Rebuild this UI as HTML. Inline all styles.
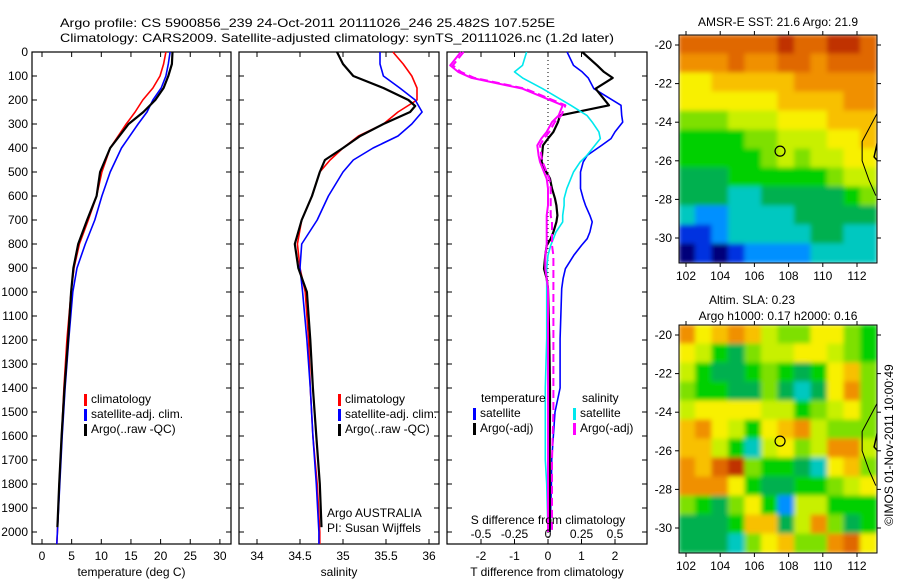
<!DOCTYPE html>
<html><head><meta charset="utf-8"><style>
html,body{margin:0;padding:0;background:#fff}
svg{display:block;font-family:"Liberation Sans",sans-serif}
text{font-size:12px;fill:#000}
</style></head><body>
<svg id="fig" width="900" height="580" viewBox="0 0 900 580" xmlns="http://www.w3.org/2000/svg">
<text x="60" y="27" font-size="14" textLength="495" lengthAdjust="spacingAndGlyphs">Argo profile: CS 5900856_239 24-Oct-2011 20111026_246 25.482S 107.525E</text>
<text x="60" y="42" font-size="14" textLength="554" lengthAdjust="spacingAndGlyphs">Climatology: CARS2009. Satellite-adjusted climatology: synTS_20111026.nc (1.2d later)</text>
<g id="plots"></g>
<g id="maps"></g>
<text transform="translate(893,445) rotate(-90)" text-anchor="middle" font-size="12">©IMOS 01-Nov-2011 10:00:49</text>
</svg>
<script>
// ---------- data ----------
const depthT = [0,50,100,150,200,250,300,400,500,600,700,800,900,1000,1200,1400,1600,1800,2000,2050];
const tempClim = [20.9,20.5,19.9,18.7,17.0,15.7,14.2,11.5,10.1,9.2,7.8,6.3,5.4,4.9,4.2,3.7,3.3,2.9,2.6,2.5];
const tempSat  = [21.6,21.3,20.9,20.1,18.7,17.7,16.2,13.4,11.5,10.1,8.9,7.3,5.9,5.2,4.5,3.9,3.4,3.0,2.6,2.5];
const depthArgo = [0,50,100,150,200,250,300,400,500,600,700,800,900,1000,1200,1400,1600,1800,1980];
const tempArgo = [22.0,21.9,21.3,20.5,19.1,17.1,14.6,11.5,9.8,9.2,7.6,6.1,5.3,4.9,4.4,3.8,3.3,2.9,2.6];

const depthS = [0,50,100,150,200,250,300,350,400,450,500,600,700,800,900,1000,1200,1400,1600,1800,2000,2050];
const salClim = [35.58,35.70,35.80,35.86,35.86,35.64,35.47,35.18,35.0,34.85,34.73,34.64,34.52,34.47,34.50,34.56,34.60,34.62,34.65,34.70,34.73,34.73];
const salSat  = [35.43,35.43,35.47,35.66,35.84,35.92,35.80,35.64,35.35,35.12,35.0,34.83,34.70,34.52,34.50,34.53,34.58,34.62,34.65,34.69,34.72,34.72];
const depthSA = [0,50,100,150,200,225,250,300,350,400,450,500,600,700,800,900,1000,1200,1400,1600,1800,1980];
const salArgo = [34.93,35.0,35.12,35.47,35.76,35.84,35.78,35.47,35.2,35.0,34.79,34.73,34.64,34.52,34.44,34.48,34.58,34.62,34.65,34.69,34.73,34.75];

const depthD = [0,56,83,108,153,222,264,292,333,361,389,431,458,500,528,569,611,639,681,708,750,778,806,847,903,944,986,1194,1400,1500,1700,1800,2000];
const dTsat  = [0.57,0.76,1.02,1.2,1.37,2.18,2.2,2.23,2.0,1.88,1.6,1.17,1.05,0.97,0.97,0.97,1.05,1.12,1.25,1.32,1.25,1.17,1.0,0.77,0.52,0.45,0.41,0.36,0.36,0.21,0.11,0.1,0.06];
const dTargo = [1.02,1.47,1.67,1.93,1.42,1.82,0.36,0.3,0.16,0.0,-0.15,-0.18,-0.19,-0.05,0.06,0.12,0.21,0.25,0.28,0.25,0.16,0.08,-0.04,-0.08,-0.12,-0.04,0.0,0.04,0.06,0.06,0.05,0.05,0.05];
const dSsat  = [-0.16,-0.19,-0.25,-0.19,-0.04,0.17,0.29,0.33,0.38,0.39,0.35,0.29,0.24,0.19,0.17,0.14,0.12,0.12,0.11,0.11,0.06,0.04,0.02,0.0,-0.01,-0.01,-0.01,-0.01,-0.02,-0.02,-0.02,-0.01,0.0];
const dSargo = [-0.65,-0.73,-0.67,-0.57,-0.19,0.11,0.08,0.03,-0.01,-0.05,-0.08,-0.07,-0.06,-0.03,-0.01,0.0,0.0,0.0,-0.01,-0.01,-0.01,-0.01,-0.01,-0.02,-0.02,-0.01,0.0,0.0,0.0,0.0,0.0,0.0,0.0];
const dSargo2= [-0.63,-0.71,-0.65,-0.55,-0.17,0.13,0.1,0.05,0.01,-0.03,-0.06,-0.05,-0.04,-0.01,0.01,0.02,0.02,0.02,0.02,0.03,0.03,0.03,0.03,0.04,0.04,0.04,0.04,0.04,0.04,0.04,0.03,0.03,0.03];

const depthTicks = [0,100,200,300,400,500,600,700,800,900,1000,1100,1200,1300,1400,1500,1600,1700,1800,1900,2000];
const tempTicks = [0,5,10,15,20,25,30];
const salTicks = [34,34.5,35,35.5,36];
const salTickLabels = ["34","34.5","35","35.5","36"];
const dTTicks = [-2,-1,0,1,2];
const dSTicks = [-0.5,-0.25,0,0.25,0.5];

const lonTicks = [102,104,106,108,110,112];
const latTicks = [-20,-22,-24,-26,-28,-30];
const sstGrid = [
[11,11,11,11,11,11,12,11,11,12,12,11],
[10,10,10,11,10,10,11,11,10,11,11,11],
[8,8,9,9,9,9,9,10,10,10,10,10],
[8,8,8,8,8,8,9,9,9,9,10,10],
[6,6,6,7,7,7,8,8,8,9,9,9],
[5,5,5,5,6,6,7,7,7,8,8,9],
[5,5,5,5,5,6,7,6,7,7,8,8],
[4,4,4,5,5,5,5,5,5,6,7,7],
[4,4,4,3,3,4,4,4,4,4,5,6],
[3,2,2,3,3,3,3,4,4,4,4,4],
[1,1,2,3,3,3,3,3,4,4,3,3],
[0,1,0,1,2,2,2,2,3,3,3,3]];
const slaGrid = [
[10,8,9,10,9,7,6,6,8,8,6,5],
[8,7,5,4,6,7,7,8,8,7,6,5],
[7,5,4,4,5,6,5,4,5,8,9,6],
[6,5,5,4,4,6,4,3,4,8,10,6],
[7,8,8,8,8,7,7,5,6,7,8,6],
[9,10,8,7,5,8,9,10,7,6,6,6],
[9,9,7,5,3,7,8,6,7,10,10,7],
[10,9,11,12,6,5,5,4,3,8,9,6],
[10,10,10,8,5,4,4,5,5,6,7,8],
[6,5,4,6,8,5,2,7,7,5,5,5],
[4,4,4,5,9,9,4,7,10,6,4,5],
[4,4,4,3,6,8,9,6,6,10,11,8]];

// ---------- helpers ----------
const NS = "http://www.w3.org/2000/svg";
function mk(tag, attrs, parent){const e=document.createElementNS(NS,tag);for(const k in attrs)e.setAttribute(k,attrs[k]);(parent||svg).appendChild(e);return e;}
const svg = document.getElementById('plots');
const TOP=52, BOT=544;
const yD = d => TOP + d*0.24;

function panel(x0,x1,name,xs,xticks,xlabels,title){
  const g = mk('g',{});
  
  
  const r = mk('rect',{x:x0,y:TOP,width:x1-x0,height:BOT-TOP,fill:'none',stroke:'#000','stroke-width':1.2},g);
  
  
  depthTicks.forEach(d=>{
    mk('line',{x1:x0,x2:x0+5,y1:yD(d),y2:yD(d),stroke:'#000'},g);
    mk('line',{x1:x1-5,x2:x1,y1:yD(d),y2:yD(d),stroke:'#000'},g);
  });
  xticks.forEach((v,i)=>{
    const x = xs(v);
    mk('line',{x1:x,x2:x,y1:TOP,y2:TOP+5,stroke:'#000'},g);
    mk('line',{x1:x,x2:x,y1:BOT-5,y2:BOT,stroke:'#000'},g);
    const t = mk('text',{x:x,y:560,'text-anchor':'middle'},g);
    t.textContent = xlabels[i];
    
    
  });
  const tt = mk('text',{x:(x0+x1)/2,y:576,'text-anchor':'middle'},g);
  tt.textContent = title;
  
  
  return g;
}
function line(g, xs, vals, depths, color, w, name, dash){
  const pts = vals.map((v,i)=>xs(v).toFixed(1)+','+yD(depths[i]).toFixed(1)).join(' ');
  const p = mk('polyline',{points:pts,fill:'none',stroke:color,'stroke-width':w,'stroke-linejoin':'round'},g);
  if(dash) p.setAttribute('stroke-dasharray', dash);
  
  
}
function legend(g, x, y, items){
  items.forEach((it,i)=>{
    mk('rect',{x:x,y:y+i*15-9,width:3,height:12,fill:it[1]},g);
    const t = mk('text',{x:x+7,y:y+i*15},g);
    t.textContent = it[0];
    
    
  });
}

// depth labels
depthTicks.forEach(d=>{
  const t = mk('text',{x:28,y:yD(d)+4,'text-anchor':'end'});
  t.textContent = d;
  
  
});

// panel 1 temperature
const xT = v => 42 + v*5.93;
const g1 = panel(32,231,'temperature-panel',xT,tempTicks,tempTicks.map(String),'temperature (deg C)');
line(g1,xT,tempClim,depthT,'#ff0000',1.6,'temp-climatology-line');
line(g1,xT,tempSat,depthT,'#0000ff',1.6,'temp-satellite-line');
line(g1,xT,tempArgo,depthArgo,'#000',2.2,'temp-argo-line');
legend(g1,84,403,[['climatology','#f00'],['satellite-adj. clim.','#00f'],['Argo(..raw -QC)','#000']]);

// panel 2 salinity
const xS = v => 257 + (v-34)*86;
const g2 = panel(239,439,'salinity-panel',xS,salTicks,salTickLabels,'salinity');
line(g2,xS,salClim,depthS,'#ff0000',1.6,'sal-climatology-line');
line(g2,xS,salSat,depthS,'#0000ff',1.6,'sal-satellite-line');
line(g2,xS,salArgo,depthSA,'#000',2.2,'sal-argo-line');
legend(g2,338,403,[['climatology','#f00'],['satellite-adj. clim.','#00f'],['Argo(..raw -QC)','#000']]);
[['Argo AUSTRALIA',517],['PI: Susan Wijffels',532]].forEach(a=>{
  const t = mk('text',{x:327,y:a[1]},g2); t.textContent=a[0];
  
  
});

// panel 3 differences
const xDT = v => 548 + v*33.5;
const xDS = v => 548 + v*134;
const g3 = panel(447,647,'difference-panel',xDT,dTTicks,dTTicks.map(String),'T difference from climatology');
mk('line',{x1:548,x2:548,y1:TOP,y2:BOT,stroke:'#000','stroke-dasharray':'1,3'},g3);
line(g3,xDT,dTsat,depthD,'#0000ff',1.6,'dT-satellite-line');
line(g3,xDT,dTargo,depthD,'#000',2.2,'dT-argo-line');
line(g3,xDS,dSsat,depthD,'#00e8ee',1.6,'dS-satellite-line');
line(g3,xDS,dSargo,depthD,'#ff00ff',2,'dS-argo-line');
line(g3,xDS,dSargo2,depthD,'#ff00ff',2,'dS-argo-adj-line','8,4');
[['temperature',481,402],['salinity',582,402]].forEach(a=>{
  const t = mk('text',{x:a[1],y:a[2]},g3); t.textContent=a[0];
  
  
});
legend(g3,473,417,[['satellite','#00f'],['Argo(-adj)','#000']]);
legend(g3,573,417,[['satellite','#00e8ee'],['Argo(-adj)','#f0f']]);
const st = mk('text',{x:548,y:524,'text-anchor':'middle'},g3);
st.textContent = 'S difference from climatology';


dSTicks.forEach(v=>{
  const t = mk('text',{x:xDS(v),y:538,'text-anchor':'middle'},g3);
  t.textContent = String(v);
  
  
});

// ---------- maps ----------
const maps = document.getElementById('maps');
const palette = ['#00007a','#0030e0','#0090ff','#00c8c0','#00b050','#00d000','#7ee000','#c8f000','#f8f000','#f8c000','#f09000','#e06800','#c03000'];
const lonX = lon => 686 + (lon-102)*17.1;
const defs = mk('defs',{},maps);
const blur = mk('filter',{id:'bl',x:'-5%',y:'-5%',width:'110%',height:'110%'},defs);
mk('feGaussianBlur',{stdDeviation:2.5},blur);
function map(top, bottom, grid, name, lat20){
  const latY = lat => lat20 + (-20-lat)*19.3;
  const g = mk('g',{},maps);
  
  
  const cp = mk('clipPath',{id:name+'-clip'},defs);
  mk('rect',{x:679,y:top,width:198,height:bottom-top},cp);
  const cells = mk('g',{'clip-path':'url(#'+name+'-clip)'},g);
  const inner = mk('g',{filter:'url(#bl)'},cells);
  const cw = 198/12, ch = (bottom-top)/12;
  grid.forEach((row,r)=>row.forEach((v,c)=>{
    const rc = mk('rect',{x:679+c*cw-0.5,y:top+r*ch-0.5,width:cw+1,height:ch+1,fill:palette[v]},inner);
    
    
  }));
  // coastline
  const coast = [[113.2,-23.5],[112.3,-25.0],[112.3,-26.0],[112.7,-27.0],[113.1,-27.8]];
  mk('polyline',{points:coast.map(p=>lonX(p[0])+','+latY(p[1])).join(' '),fill:'none',stroke:'#000','stroke-width':1},cells);
  mk('polyline',{points:[[113.2,-25.0],[113.0,-25.8],[113.2,-26.0]].map(p=>lonX(p[0])+','+latY(p[1])).join(' '),fill:'none',stroke:'#000','stroke-width':1.5},cells);
  const c = mk('circle',{cx:lonX(107.5),cy:latY(-25.5),r:5,fill:'none',stroke:'#000','stroke-width':1.2},g);
  
  
  mk('rect',{x:679,y:top,width:198,height:bottom-top,fill:'none',stroke:'#000','stroke-width':1},g);
  lonTicks.forEach(l=>{
    mk('line',{x1:lonX(l),x2:lonX(l),y1:bottom,y2:bottom+4,stroke:'#000'},g);
    mk('line',{x1:lonX(l),x2:lonX(l),y1:top-4,y2:top,stroke:'#000'},g);
    const t = mk('text',{x:lonX(l),y:bottom+17,'text-anchor':'middle'},g);
    t.textContent = l;
    
    
  });
  latTicks.forEach(l=>{
    mk('line',{x1:675,x2:679,y1:latY(l),y2:latY(l),stroke:'#000'},g);
    mk('line',{x1:877,x2:881,y1:latY(l),y2:latY(l),stroke:'#000'},g);
    const t = mk('text',{x:672,y:latY(l)+4,'text-anchor':'end'},g);
    t.textContent = l;
    
    
  });
}
map(35,263,sstGrid,'sst-map',45);
map(325,553,slaGrid,'sla-map',335);
[['AMSR-E SST: 21.6 Argo: 21.9',778,26],['Altim. SLA: 0.23',752,304],['Argo h1000: 0.17 h2000: 0.16',778,320]].forEach(a=>{
  const t = mk('text',{x:a[1],y:a[2],'text-anchor':'middle'},maps);
  t.textContent = a[0];
  
  
});
</script>
</body></html>
